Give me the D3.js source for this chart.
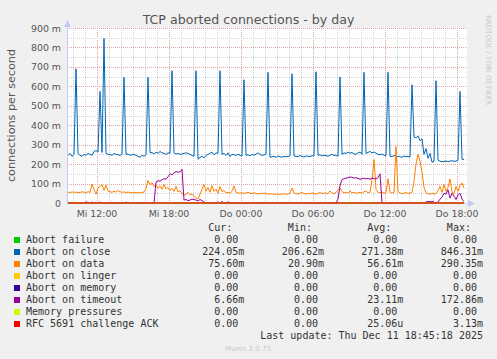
<!DOCTYPE html>
<html>
<head>
<meta charset="utf-8">
<script src="https://cdn.jsdelivr.net/npm/d3@7"></script>
<style>
  body { margin: 0; background: #f0f0f0; }
  svg { display: block; }
  text { font-family: "DejaVu Sans", sans-serif; }
  .mono { font-family: "DejaVu Sans Mono", monospace; font-size: 10px; fill: #333; }
</style>
</head>
<body>
<div id="graphed"></div>
<script>
// samples every 10 minutes (values in milli connections/s)
var abortOnClose = [
  250, 245, 255, 240, 250, 690, 255, 245, 240, 250, 245, 255, 250, 245, 265, 270, 262, 574, 260, 846,
  255, 250, 250, 245, 255, 250, 248, 245, 250, 646, 250, 252, 245, 248, 250, 245, 240, 235, 245, 240,
  248, 646, 258, 260, 252, 262, 255, 265, 258, 255, 250, 258, 255, 680, 258, 252, 255, 250, 252, 255,
  258, 255, 250, 245, 240, 680, 225, 235, 240, 232, 245, 250, 255, 262, 248, 258, 255, 680, 250, 255,
  245, 258, 240, 250, 248, 245, 250, 245, 242, 634, 245, 248, 242, 250, 246, 252, 258, 250, 245, 248,
  250, 672, 235, 238, 240, 235, 242, 238, 236, 240, 238, 240, 242, 665, 242, 240, 238, 244, 240, 236,
  242, 240, 238, 244, 242, 675, 245, 248, 242, 246, 244, 240, 246, 250, 244, 246, 240, 648, 250, 258,
  255, 262, 256, 260, 252, 250, 258, 262, 250, 672, 255, 260, 265, 258, 262, 256, 250, 248, 252, 246,
  244, 672, 240, 238, 245, 236, 240, 238, 235, 242, 238, 240, 236, 608, 340, 335, 345, 320, 330, 250,
  280, 230, 255, 210, 215, 629, 220, 215, 212, 214, 216, 213, 215, 218, 214, 216, 220, 574, 225, 224
];
var abortOnData = [
  55, 56, 54, 57, 55, 56, 54, 55, 57, 56, 54, 58, 55, 97, 70, 45, 78, 85, 94, 65,
  92, 62, 58, 55, 60, 56, 65, 58, 55, 57, 54, 56, 55, 52, 55, 54, 53, 52, 55, 56,
  75, 116, 95, 105, 85, 95, 75, 88, 70, 95, 72, 80, 65, 75, 60, 85, 58, 62, 50, 40,
  45, 55, 42, 45, 35, 25, 21, 45, 70, 95, 60, 80, 55, 90, 60, 72, 50, 85, 58, 65,
  52, 55, 50, 60, 88, 55, 52, 50, 54, 48, 52, 55, 50, 48, 52, 50, 47, 50, 48, 52,
  46, 48, 45, 48, 44, 47, 43, 46, 45, 48, 44, 46, 50, 77, 52, 48, 46, 50, 55, 48,
  45, 50, 47, 52, 48, 46, 50, 54, 48, 52, 50, 48, 62, 52, 48, 55, 65, 78, 60, 52,
  55, 50, 62, 52, 55, 50, 52, 55, 50, 58, 62, 52, 55, 120, 223, 70, 55, 52, 56, 50,
  54, 125, 55, 50, 55, 290, 60, 52, 48, 50, 55, 48, 52, 55, 110, 200, 250, 215, 160, 80,
  52, 48, 45, 50, 46, 48, 65, 85, 55, 95, 60, 80, 124, 55, 48, 85, 60, 90, 103, 76
];
var abortOnTimeout = [
  0, 4, 0, 0, 0, 0, 0, 0, 0, 0, 5, 4, 0, 5, 0, 4, 0, 5, 0, 0,
  0, 0, 0, 4, 0, 0, 0, 0, 0, 0, 5, 0, 0, 0, 0, 0, 4, 0, 0, 0,
  0, 0, 0, 0, 0, 108, 115, 112, 120, 125, 122, 135, 150, 145, 155, 162, 158, 160, 173, 15,
  18, 12, 15, 20, 18, 15, 10, 18, 12, 5, 0, 0, 0, 0, 0, 0, 5, 0, 8, 0,
  0, 6, 0, 0, 0, 0, 0, 0, 0, 0, 0, 0, 0, 0, 0, 0, 0, 0, 0, 0,
  0, 0, 0, 0, 0, 0, 0, 0, 0, 0, 0, 0, 0, 0, 0, 0, 0, 0, 0, 0,
  0, 0, 0, 0, 0, 0, 0, 0, 0, 0, 0, 0, 0, 0, 0, 0, 20, 90, 120, 125,
  128, 130, 134, 132, 128, 130, 126, 122, 125, 128, 124, 126, 122, 128, 125, 124, 130, 150, 0, 0,
  0, 0, 0, 0, 0, 0, 0, 0, 0, 0, 0, 0, 0, 0, 0, 0, 0, 0, 0, 0,
  5, 8, 6, 8, 5, 0, 5, 20, 30, 50, 45, 68, 25, 50, 35, 18, 42, 50, 20, 7
];
// series that stay at zero: first and last sample only
var flatSeries = [0, 0];

var legendNames = ["Abort failure", "Abort on close", "Abort on data", "Abort on linger",
  "Abort on memory", "Abort on timeout", "Memory pressures", "RFC 5691 challenge ACK"];
var legendColors = ["#00cc00", "#0066b3", "#ff8000", "#ffcc00", "#330099", "#990099", "#ccff00", "#ff0000"];
var legendCur = ["0.00", "224.05m", "75.60m", "0.00", "0.00", "6.66m", "0.00", "0.00"];
var legendMin = ["0.00", "206.62m", "20.90m", "0.00", "0.00", "0.00", "0.00", "0.00"];
var legendAvg = ["0.00", "271.38m", "56.61m", "0.00", "0.00", "23.11m", "0.00", "25.06u"];
var legendMax = ["0.00", "846.31m", "290.35m", "0.00", "0.00", "172.86m", "0.00", "3.13m"];

var yTicks = [0, 100, 200, 300, 400, 500, 600, 700, 800, 900];
var yTickLabels = ["0", "100 m", "200 m", "300 m", "400 m", "500 m", "600 m", "700 m", "800 m", "900 m"];
var xTickLabels = ["Mi 12:00", "Mi 18:00", "Do 00:00", "Do 06:00", "Do 12:00", "Do 18:00"];
var xTickTimes = [new Date(2025, 11, 10, 12), new Date(2025, 11, 10, 18), new Date(2025, 11, 11, 0),
  new Date(2025, 11, 11, 6), new Date(2025, 11, 11, 12), new Date(2025, 11, 11, 18)];

var startTime = new Date(2025, 11, 10, 9, 30);
var endTime = new Date(2025, 11, 11, 18, 50);
var sampleStart = new Date(2025, 11, 10, 9, 25);
var step = 10 * 60 * 1000;

// dimensions
var W = 497, H = 359;
var plotLeft = 67, plotRight = 467, plotTop = 28, plotBottom = 203;

var svg = d3.select("#graphed").append("svg")
    .attr("width", W)
    .attr("height", H);

svg.append("rect").attr("width", W).attr("height", H).attr("fill", "#f0f0f0");
svg.append("rect")
    .attr("x", plotLeft).attr("y", plotTop)
    .attr("width", plotRight - plotLeft).attr("height", plotBottom - plotTop)
    .attr("fill", "#ffffff");

var x = d3.scaleTime().domain([startTime, endTime]).range([plotLeft, plotRight]);
var y = d3.scaleLinear().domain([0, 900]).range([plotBottom, plotTop]);

var sampleTime = function(i) { return new Date(sampleStart.getTime() + i * step); };
var lastTime = sampleTime(abortOnClose.length - 1);

// grid
var grid = svg.append("g").attr("stroke-dasharray", "1,1").attr("stroke-width", 1);
d3.timeHour.range(startTime, endTime).forEach(function(t) {
  var px = Math.round(x(t)) + 0.5;
  var major = t.getHours() % 6 === 0;
  grid.append("line")
    .attr("x1", px).attr("x2", px).attr("y1", plotTop).attr("y2", plotBottom)
    .attr("stroke", major ? "#e6a3a3" : "#d4d4d4");
});
d3.range(50, 901, 50).forEach(function(v) {
  var py = Math.round(y(v)) + 0.5;
  grid.append("line")
    .attr("x1", plotLeft).attr("x2", plotRight).attr("y1", py).attr("y2", py)
    .attr("stroke", v % 100 === 0 ? "#e6a3a3" : "#d4d4d4");
});

// axes
var axisColor = "#c4c8f4";
svg.append("line").attr("x1", plotLeft + 0.5).attr("x2", plotLeft + 0.5).attr("y1", plotBottom).attr("y2", 24)
  .attr("stroke", axisColor);
svg.append("line").attr("x1", plotLeft).attr("x2", 470).attr("y1", plotBottom + 0.5).attr("y2", plotBottom + 0.5)
  .attr("stroke", axisColor);
svg.append("path").attr("d", "M64,27L71,27L67.5,20Z").attr("fill", axisColor);
svg.append("path").attr("d", "M468,200L468,207L475,203.5Z").attr("fill", axisColor);

svg.selectAll(".ylab")
  .data(yTicks)
  .enter().append("text")
    .attr("x", 61)
    .attr("y", function(d) { return y(d) + 3.5; })
    .attr("text-anchor", "end")
    .attr("font-size", "9.4px")
    .attr("fill", "#555")
    .text(function(d, i) { return yTickLabels[i]; });

svg.selectAll(".xlab")
  .data(xTickTimes)
  .enter().append("text")
    .attr("x", function(d) { return x(d); })
    .attr("y", 216.5)
    .attr("text-anchor", "middle")
    .attr("font-size", "9.4px")
    .attr("fill", "#555")
    .text(function(d, i) { return xTickLabels[i]; });

svg.append("text")
    .attr("transform", "translate(15,115.5) rotate(-90)")
    .attr("text-anchor", "middle")
    .attr("font-size", "11.2px")
    .attr("fill", "#555")
    .text("connections per second");

svg.append("text")
    .attr("x", 248.5).attr("y", 24)
    .attr("text-anchor", "middle")
    .attr("font-size", "12.6px")
    .attr("fill", "#555")
    .text("TCP aborted connections - by day");

svg.append("text")
    .attr("transform", "translate(486,15) rotate(90)")
    .attr("font-size", "7px")
    .attr("fill", "#c8c8c8")
    .text("RRDTOOL / TOBI OETIKER");

// data lines
svg.append("clipPath").attr("id", "plotclip")
  .append("rect").attr("x", plotLeft + 1).attr("y", 0).attr("width", plotRight - plotLeft).attr("height", plotBottom + 2);

var valueline = d3.line()
    .x(function(d) { return x(d.t); })
    .y(function(d) { return y(d.v); });

var toPoints = function(vals) {
  return vals.map(function(v, i) { return {t: sampleTime(i), v: v}; });
};
var flatPoints = function(vals) {
  return [{t: sampleStart, v: vals[0]}, {t: lastTime, v: vals[1]}];
};

var lines = [
  {pts: flatPoints(flatSeries), color: legendColors[0]},
  {pts: toPoints(abortOnClose), color: legendColors[1]},
  {pts: toPoints(abortOnData), color: legendColors[2]},
  {pts: flatPoints(flatSeries), color: legendColors[3]},
  {pts: flatPoints(flatSeries), color: legendColors[4]},
  {pts: toPoints(abortOnTimeout), color: legendColors[5]},
  {pts: flatPoints(flatSeries), color: legendColors[6]},
  {pts: flatPoints(flatSeries), color: legendColors[7]}
];

var plot = svg.append("g").attr("clip-path", "url(#plotclip)");
lines.forEach(function(s) {
  plot.append("path")
    .datum(s.pts)
    .attr("fill", "none")
    .attr("stroke", s.color)
    .attr("stroke-width", 1)
    .attr("d", valueline);
});

// legend
var colEnds = [244.3, 324, 403.3, 483];
var headers = ["Cur:", "Min:", "Avg:", "Max:"];
var charW = 6.02;
headers.forEach(function(h, j) {
  svg.append("text").attr("class", "mono")
    .attr("x", colEnds[j] - 2 * charW).attr("y", 231)
    .attr("text-anchor", "end")
    .text(h);
});

var cols = [legendCur, legendMin, legendAvg, legendMax];
legendNames.forEach(function(name, i) {
  var by = 243 + i * 12;
  svg.append("rect")
    .attr("x", 14).attr("y", by - 6)
    .attr("width", 6).attr("height", 6)
    .attr("fill", legendColors[i]);
  svg.append("text").attr("class", "mono")
    .attr("x", 26).attr("y", by)
    .text(name);
  cols.forEach(function(col, j) {
    var s = col[i];
    var hasUnit = /[a-z]$/.test(s);
    svg.append("text").attr("class", "mono")
      .attr("x", colEnds[j] - (hasUnit ? 0 : charW)).attr("y", by)
      .attr("text-anchor", "end")
      .text(s);
  });
});

svg.append("text").attr("class", "mono")
    .attr("x", 483).attr("y", 339)
    .attr("text-anchor", "end")
    .text("Last update: Thu Dec 11 18:45:18 2025");

svg.append("text")
    .attr("x", 248).attr("y", 351)
    .attr("text-anchor", "middle")
    .attr("font-size", "7px")
    .attr("fill", "#c8c8c8")
    .text("Munin 2.0.73");
</script>
</body>
</html>
